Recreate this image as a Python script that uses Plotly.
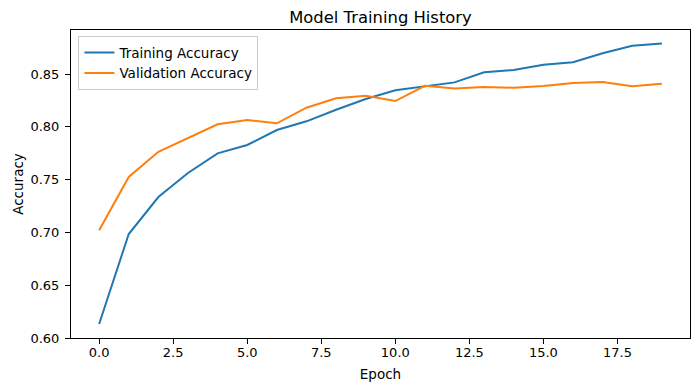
import plotly.graph_objects as go

epochs = list(range(20))
train_acc = [0.6133, 0.6985, 0.7335, 0.7563, 0.7749, 0.7828, 0.7970, 0.8052, 0.8162, 0.8263,
             0.8346, 0.8386, 0.8421, 0.8516, 0.8538, 0.8588, 0.8611, 0.8696, 0.8768, 0.8790]
val_acc = [0.7020, 0.7525, 0.7764, 0.7891, 0.8024, 0.8064, 0.8033, 0.8181, 0.8270, 0.8295,
           0.8244, 0.8389, 0.8364, 0.8377, 0.8370, 0.8386, 0.8415, 0.8424, 0.8384, 0.8409]
x_ticks = [0.0, 2.5, 5.0, 7.5, 10.0, 12.5, 15.0, 17.5]
y_ticks = [0.60, 0.65, 0.70, 0.75, 0.80, 0.85]

fig = go.Figure()
fig.add_trace(go.Scatter(x=epochs, y=train_acc, mode="lines", name="Training Accuracy",
                         line=dict(color="#1f77b4", width=2)))
fig.add_trace(go.Scatter(x=epochs, y=val_acc, mode="lines", name="Validation Accuracy",
                         line=dict(color="#ff7f0e", width=2)))

# page has an 8px body margin, so the figure is offset by 8px
W, H = 692, 383
L, R, T, B = 63, 10, 22, 53
fig.update_layout(
    width=W, height=H,
    margin=dict(l=L, r=R, t=T, b=B),
    paper_bgcolor="white", plot_bgcolor="white",
    font=dict(family="DejaVu Sans", size=13, color="black"),
    title=dict(text="Model Training History", x=(L + W - R) / 2 / W, xanchor="center",
               y=1 - 9.5 / H, yanchor="middle", font=dict(size=16.4)),
    showlegend=True,
    legend=dict(x=0.012, y=0.98, xanchor="left", yanchor="top",
                bgcolor="rgba(255,255,255,0.8)", bordercolor="#cccccc", borderwidth=1,
                font=dict(size=13.5), tracegroupgap=0),
    xaxis=dict(range=[-0.95, 19.95], tickvals=x_ticks, ticktext=[f"{v:.1f}" for v in x_ticks],
               showgrid=False, zeroline=False, showline=True, linecolor="black", linewidth=1,
               mirror=True, ticks="outside", ticklen=5, tickcolor="black", automargin=False,
               ticklabelstandoff=-3,
               title=dict(text="Epoch", font=dict(size=13.5), standoff=10), tickfont=dict(size=13)),
    yaxis=dict(range=[0.60, 0.8917], tickvals=y_ticks, ticktext=[f"{v:.2f}" for v in y_ticks],
               showgrid=False, zeroline=False, showline=True, linecolor="black", linewidth=1,
               mirror=True, ticks="outside", ticklen=5, tickcolor="black", automargin=False,
               ticklabelstandoff=3,
               title=dict(text="Accuracy", font=dict(size=13.5), standoff=3), tickfont=dict(size=13)),
)

fig.write_html("out.html")
